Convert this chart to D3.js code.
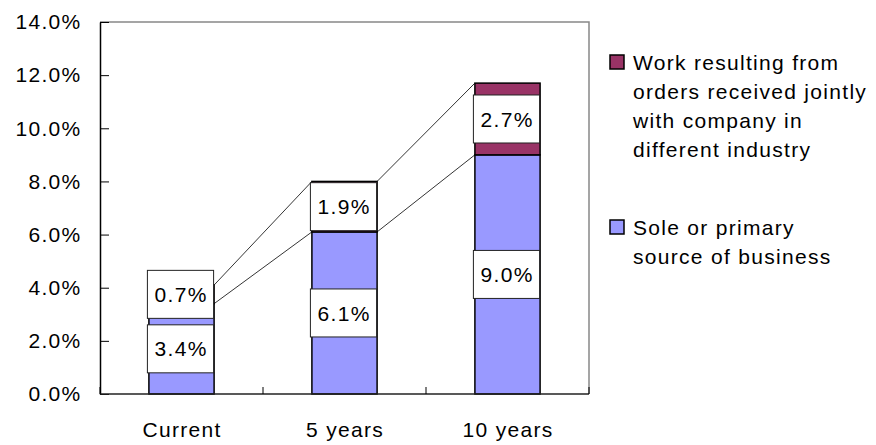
<!DOCTYPE html>
<html>
<head>
<meta charset="utf-8">
<script src="https://cdn.jsdelivr.net/npm/d3@7"></script>
<style>
  html, body { margin: 0; padding: 0; background: #fff; }
  svg { display: block; font-family: "Liberation Sans", Arial, sans-serif; }
  svg text { letter-spacing: 1.3px; }
</style>
</head>
<body>
<svg id="chart" width="876" height="445"></svg>
<script>
// Share of business by time horizon (stacked, percent)
const categories = ["Current", "5 years", "10 years"];
const soleValues = [3.4, 6.1, 9.0];
const jointValues = [0.7, 1.9, 2.7];
const yTicks = [0, 2, 4, 6, 8, 10, 12, 14];
const legendLines = [
  ["Work resulting from", "orders received jointly", "with company in", "different industry"],
  ["Sole or primary", "source of business"]
];
const colors = { sole: "#9999FF", joint: "#993366" };

const FONT = 21;
const svg = d3.select("#chart");
const plot = { left: 100, right: 589, top: 22, bottom: 394 };

const x = d3.scaleBand()
  .domain(categories)
  .range([plot.left, plot.right])
  .paddingInner(0.6)
  .paddingOuter(0.3);

const y = d3.scaleLinear()
  .domain([0, 14])
  .range([plot.bottom, plot.top]);

// Stack the two series
const rows = categories.map((c, i) => ({ cat: c, sole: soleValues[i], joint: jointValues[i] }));
const stack = d3.stack().keys(["sole", "joint"])(rows);

// Plot frame (top and right)
svg.append("path")
  .attr("d", `M${plot.left},${plot.top}H${plot.right}V${plot.bottom}`)
  .attr("fill", "none")
  .attr("stroke", "#888")
  .attr("stroke-width", 1.5);

// Series lines joining the segment tops of neighbouring bars
const lineG = svg.append("g");
stack.forEach(layer => {
  for (let i = 0; i < categories.length - 1; i++) {
    lineG.append("line")
      .attr("x1", x(categories[i]) + x.bandwidth())
      .attr("y1", y(layer[i][1]))
      .attr("x2", x(categories[i + 1]))
      .attr("y2", y(layer[i + 1][1]))
      .attr("stroke", "#000")
      .attr("stroke-width", 0.8);
  }
});

// Bars
svg.append("g").selectAll("g")
  .data(stack)
  .join("g")
  .attr("fill", d => colors[d.key])
  .selectAll("rect")
  .data(d => d)
  .join("rect")
  .attr("x", d => x(d.data.cat))
  .attr("y", d => y(d[1]))
  .attr("width", x.bandwidth())
  .attr("height", d => y(d[0]) - y(d[1]))
  .attr("stroke", "#000")
  .attr("stroke-width", 1.5);

// Y axis
const yAxis = d3.axisLeft(y)
  .tickValues(yTicks)
  .tickFormat(d => d.toFixed(1) + "%")
  .tickSizeInner(-9)
  .tickSizeOuter(0)
  .tickPadding(18.5);
const yg = svg.append("g").attr("transform", `translate(${plot.left},0)`).call(yAxis);
yg.select(".domain").attr("stroke", "#000").attr("stroke-width", 1.5);
yg.selectAll(".tick line").attr("stroke", "#000");
yg.selectAll(".tick text")
  .attr("font-size", FONT)
  .attr("fill", "#000")
  .attr("font-family", "Liberation Sans, Arial, sans-serif");

// X axis with tick marks at the category boundaries
const xg = svg.append("g").attr("transform", `translate(0,${plot.bottom})`);
xg.append("line")
  .attr("x1", plot.left).attr("x2", plot.right)
  .attr("stroke", "#222").attr("stroke-width", 1.5);
const boundaries = d3.range(categories.length + 1).map(i => plot.left + i * (plot.right - plot.left) / categories.length);
xg.selectAll("line.tick")
  .data(boundaries)
  .join("line")
  .attr("class", "tick")
  .attr("x1", d => d).attr("x2", d => d)
  .attr("y1", 0).attr("y2", -7)
  .attr("stroke", "#000");
xg.selectAll("text")
  .data(categories)
  .join("text")
  .attr("x", d => x(d) + x.bandwidth() / 2 + 0.6)
  .attr("y", 43)
  .attr("text-anchor", "middle")
  .attr("font-size", FONT)
  .text(d => d);

// Value labels in white boxes, centred on each segment
const labelG = svg.append("g");
stack.forEach(layer => {
  layer.forEach(d => {
    const cx = x(d.data.cat) + x.bandwidth() / 2 - 1;
    const cy = y((d[0] + d[1]) / 2);
    const w = x.bandwidth() + 1, h = 48;
    labelG.append("rect")
      .attr("x", cx - w / 2).attr("y", cy - h / 2)
      .attr("width", w).attr("height", h)
      .attr("fill", "#fff")
      .attr("stroke", "#222")
      .attr("stroke-width", 1);
    labelG.append("text")
      .attr("x", cx + 0.6).attr("y", cy)
      .attr("dy", "0.36em")
      .attr("text-anchor", "middle")
      .attr("font-size", FONT)
      .text((d[1] - d[0]).toFixed(1) + "%");
  });
});

// Legend
const legend = svg.append("g");
const legendItems = [
  { color: colors.joint, lines: legendLines[0], top: 62 },
  { color: colors.sole, lines: legendLines[1], top: 227 }
];
legendItems.forEach(item => {
  legend.append("rect")
    .attr("x", 610).attr("y", item.top - 7)
    .attr("width", 14).attr("height", 14)
    .attr("fill", item.color)
    .attr("stroke", "#000")
    .attr("stroke-width", 1.5);
  item.lines.forEach((t, i) => {
    legend.append("text")
      .attr("x", 633)
      .attr("y", item.top + i * 29)
      .attr("dy", "0.36em")
      .attr("font-size", FONT)
      .text(t);
  });
});
</script>
</body>
</html>
